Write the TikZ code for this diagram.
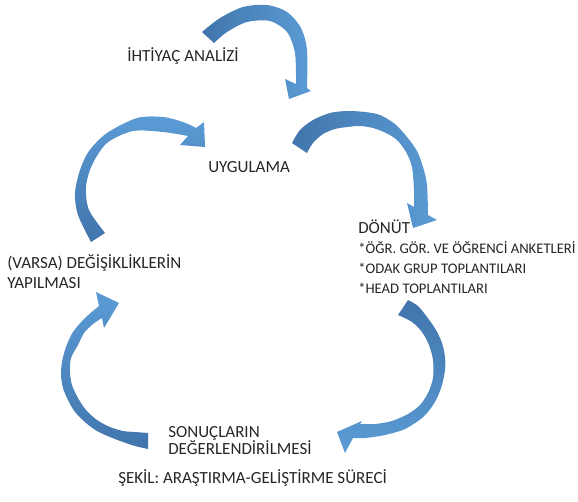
\documentclass[tikz,border=0pt]{standalone}
\usepackage{fontspec}
\setmainfont{Carlito}
\definecolor{arrowdark}{RGB}{65,117,172}
\definecolor{arrowlight}{RGB}{91,155,213}
\definecolor{labeltext}{RGB}{38,38,38}

\begin{document}
\begin{tikzpicture}[
	x=0.75pt, y=-0.75pt,
	label/.style={
		anchor=base west,
		inner sep=0pt,
		align=left,
		text=labeltext,
		font=\fontsize{12.75}{14.5}\selectfont,
	},
	cyclearrow/.style={
		draw=none,
	},
]
\useasboundingbox (0,0) rectangle (578,501);

% needs analysis -> application
\shade[cyclearrow, left color=arrowdark, right color=arrowlight]
	(202,32) -- plot[smooth] coordinates {(202,32) (220,18) (243,7) (267,5) (287,12) (301,28) (307,50) (307,88)}
	-- (311,91) -- (289,99) -- (285,79)
	-- plot[smooth] coordinates {(296,84) (295,53) (287,32) (270,21) (247,22) (227,32) (214,43)}
	-- cycle;

% changes -> application
\shade[cyclearrow, bottom color=arrowdark, top color=arrowlight]
	(91,242) -- plot[smooth] coordinates {(91,242) (78,215) (75,193) (80,170) (89,151) (107,133) (137,118) (163,117) (183,122) (196,128)}
	-- (204,122) -- (205,147) -- (180,145)
	-- plot[smooth] coordinates {(188,136) (163,132) (133,131) (107,143) (92,165) (86,187) (89,210) (105,233)}
	-- cycle;

% application -> feedback
\shade[cyclearrow, left color=arrowdark, right color=arrowlight]
	(292,143) -- plot[smooth] coordinates {(292,143) (300,130) (313,120) (330,113) (347,111) (365,112) (380,115) (395,124) (407,137) (417,151) (423,167) (427,185) (428,215)}
	-- (437,220) -- (413,228) -- (407,203)
	-- plot[smooth] coordinates {(414,207) (414,190) (412,167) (406,152) (397,140) (386,133) (373,128) (360,126) (347,127) (335,129) (323,134) (313,143) (307,153)}
	-- cycle;

% feedback -> evaluation
\shade[cyclearrow, top color=arrowdark, bottom color=arrowlight]
	(408,300) -- plot[smooth] coordinates {(408,300) (418,306) (427,317) (436,330) (442,343) (445,357) (445,370) (442,385) (437,398) (431,408) (422,418) (405,429) (385,435) (365,438) (353,438)}
	-- (345,453) -- (337,432) -- (362,421)
	-- plot[smooth] coordinates {(360,424) (375,424) (392,421) (408,414) (420,405) (428,393) (433,378) (433,360) (429,345) (422,332) (412,322) (398,315)}
	-- cycle;

% evaluation -> changes
\shade[cyclearrow, bottom color=arrowdark, top color=arrowlight]
	(148,449) -- plot[smooth] coordinates {(148,449) (135,446) (123,442) (110,437) (97,431) (86,423) (75,412) (68,400) (63,388) (61,375) (62,362) (66,347) (73,332) (85,318) (99,306)}
	-- (96,292) -- (119,303) -- (104,328)
	-- plot[smooth] coordinates {(102,318) (93,324) (84,333) (78,345) (71,358) (70,372) (72,385) (78,398) (86,410) (97,420) (110,427) (123,431) (135,432) (148,433)}
	-- cycle;

\node[label] (needs) at (127,61) {İHTİYAÇ ANALİZİ};
\node[label] (apply) at (208,172) {UYGULAMA};
\node[label] (feedback) at (358,233) {DÖNÜT};
\node[label, font=\fontsize{11}{15}\selectfont] (feedbacklist) at (358,293) {*ÖĞR. GÖR. VE ÖĞRENCİ ANKETLERİ\\*ODAK GRUP TOPLANTILARI\\*HEAD TOPLANTILARI};
\node[label] (changes) at (7,288) {(VARSA) DEĞİŞİKLİKLERİN\\YAPILMASI};
\node[label, font=\fontsize{12.75}{12.75}\selectfont] (results) at (168,454) {SONUÇLARIN\\DEĞERLENDİRİLMESİ};
\node[label] (caption) at (118,483) {ŞEKİL: ARAŞTIRMA-GELİŞTİRME SÜRECİ};

\end{tikzpicture}
\end{document}
